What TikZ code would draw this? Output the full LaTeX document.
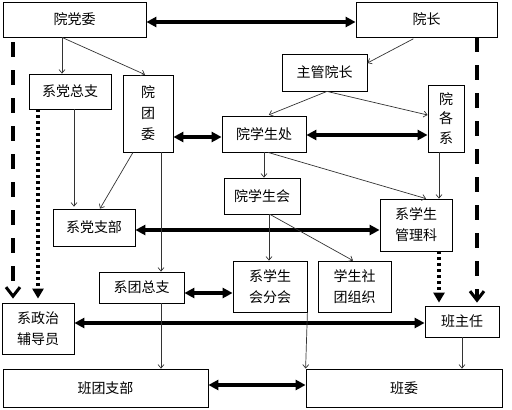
\documentclass[tikz,border=0pt]{standalone}
\usepackage{fontspec}
\setmainfont{Noto Sans CJK SC}
\usetikzlibrary{arrows.meta}
\begin{document}
\begin{tikzpicture}[x=1pt,y=-1pt,
  box/.style={draw=black,line width=0.8pt,inner sep=0pt,align=center,font=\fontsize{14}{21}\selectfont},
  thinarr/.style={draw=black!80,line width=0.7pt,-{Straight Barb[length=3.5pt,width=6pt]}},
  thickarr/.style={line width=3.4pt,{Triangle[length=10pt,width=10pt]}-{Triangle[length=10pt,width=10pt]}},
  dasharr/.style={line width=4pt,dash pattern=on 15pt off 13pt,-{Straight Barb[length=9pt,width=14pt,line width=3pt]}},
  dotarr/.style={line width=4pt,dash pattern=on 3pt off 3pt,-{Triangle[length=10pt,width=11pt]}}]
\useasboundingbox (0,0) rectangle (512,410);
% nodes
\node[box,minimum width=143pt,minimum height=35pt] (dw) at (74.5,19.5) {院党委};
\node[box,minimum width=141pt,minimum height=35pt] (yz) at (426.5,19.5) {院长};
\node[box,minimum width=82pt,minimum height=35pt] (xdzz) at (70,91.5) {系党总支};
\node[box,minimum width=50pt,minimum height=77pt] (ytw) at (148,113.5) {院\\团\\委};
\node[box,minimum width=85pt,minimum height=37pt] (zgyz) at (324.5,72.5) {主管院长};
\node[box,minimum width=36pt,minimum height=67pt,font=\fontsize{14}{19.5}\selectfont] (ygx) at (446,118.5) {院\\各\\系};
\node[box,minimum width=84pt,minimum height=36pt] (xsc) at (264,134) {院学生处};
\node[box,minimum width=76pt,minimum height=36pt] (xsh) at (262,196) {院学生会};
\node[box,minimum width=72pt,minimum height=52pt] (glk) at (416,225) {系学生\\管理科};
\node[box,minimum width=82pt,minimum height=37pt] (xdzb) at (94,227.5) {系党支部};
\node[box,minimum width=85pt,minimum height=31pt] (xtzz) at (141.5,287.5) {系团总支};
\node[box,minimum width=74pt,minimum height=51pt] (fh) at (270,286.5) {系学生\\会分会};
\node[box,minimum width=73pt,minimum height=51pt] (st) at (354.5,286.5) {学生社\\团组织};
\node[box,minimum width=72pt,minimum height=51pt] (fdy) at (38,328.5) {系政治\\辅导员};
\node[box,minimum width=74pt,minimum height=31pt] (bzr) at (462,321.5) {班主任};
\node[box,minimum width=205pt,minimum height=38pt] (btzb) at (105.5,388) {班团支部};
\node[box,minimum width=196pt,minimum height=38pt] (bw) at (404,388) {班委};
% thick double arrows
\draw[thickarr] (dw.east |- 0,22) -- (yz.west |- 0,22);
\draw[thickarr] (xsc.east |- 0,135) -- (ygx.west |- 0,135);
\draw[thickarr] (ytw.east |- 0,137) -- (xsc.west |- 0,137);
\draw[thickarr] (xdzb.east |- 0,230) -- (glk.west |- 0,230);
\draw[thickarr] (xtzz.east |- 0,293) -- (fh.west |- 0,293);
\draw[thickarr] (fdy.east |- 0,323) -- (bzr.west |- 0,323);
\draw[thickarr] (btzb.east |- 0,385) -- (bw.west |- 0,385);
% thin arrows
\draw[thinarr] (62,0 |- dw.south) -- (62,0 |- xdzz.north);
\draw[thinarr] (62,0 |- dw.south) -- (145,0 |- ytw.north);
\draw[thinarr,shorten <=3pt] (416,0 |- yz.south) -- (zgyz.east |- 0,63);
\draw[thinarr,shorten >=2pt] (327,0 |- zgyz.south) -- (267,0 |- xsc.north);
\draw[thinarr] (327,0 |- zgyz.south) -- (ygx.west |- 0,115);
\draw[thinarr] (264,0 |- xsc.south) -- (264,0 |- xsh.north);
\draw[thinarr] (268,0 |- xsc.south) -- (426,0 |- glk.north);
\draw[thinarr] (439,0 |- ygx.south) -- (439,0 |- glk.north);
\draw[thinarr] (269,0 |- xsh.south) -- (269,0 |- fh.north);
\draw[thinarr] (270,0 |- xsh.south) -- (353,0 |- st.north);
\draw[thinarr,shorten >=2pt] (74,0 |- xdzz.south) -- (74,0 |- xdzb.north);
\draw[thinarr] (133,0 |- ytw.south) -- (100,0 |- xdzb.north);
\draw[thinarr] (161,0 |- ytw.south) -- (161,0 |- xtzz.north);
\draw[thinarr] (161,0 |- xtzz.south) -- (161,0 |- btzb.north);
\draw[thinarr] (fh.south east) -- (bw.north west);
\draw[thinarr] (462,0 |- bzr.south) -- (462,0 |- bw.north);
% dashed and dotted
\draw[dasharr,dash phase=23pt,shorten >=4pt] (13,0 |- dw.south) -- (13,0 |- fdy.north);
\draw[dasharr,shorten >=3pt] (477,0 |- yz.south) -- (477,0 |- bzr.north);
\draw[dotarr,shorten >=4pt] (38,0 |- xdzz.south) -- (38,0 |- fdy.north);
\draw[dotarr,shorten >=3pt] (439,0 |- glk.south) -- (439,0 |- bzr.north);
\end{tikzpicture}
\end{document}
